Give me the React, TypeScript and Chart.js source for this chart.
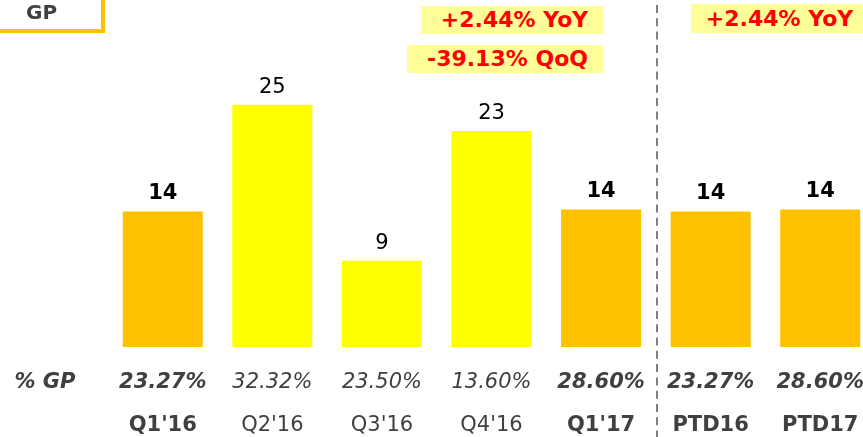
import React, { useEffect, useRef } from "react";
import { Chart, registerables } from "chart.js";

Chart.register(...registerables);

const categories = ["Q1'16", "Q2'16", "Q3'16", "Q4'16", "Q1'17", "PTD16", "PTD17"];
const gpValues = [14.0, 25.0, 8.9, 22.3, 14.2, 14.0, 14.2];
const valueLabels = ["14", "25", "9", "23", "14", "14", "14"];
const gpPercent = ["23.27%", "32.32%", "23.50%", "13.60%", "28.60%", "23.27%", "28.60%"];
const highlighted = [true, false, false, false, true, true, true];
const yMax = 35;

const ORANGE = "#FFC000";
const YELLOW = "#FFFF00";
const TEXT = "#404040";
const FONT = "'DejaVu Sans', Verdana, sans-serif";

const labelPlugin = {
  id: "gpLabels",
  afterDatasetsDraw(chart: any) {
    const ctx = chart.ctx as CanvasRenderingContext2D;
    const meta = chart.getDatasetMeta(0);
    const xs = chart.scales.x;
    ctx.save();
    ctx.textAlign = "center";
    ctx.textBaseline = "alphabetic";
    meta.data.forEach((bar: any, i: number) => {
      const bold = highlighted[i];
      // value labels
      ctx.fillStyle = "#000000";
      ctx.font = `${bold ? "bold " : ""}21px ${FONT}`;
      ctx.fillText(valueLabels[i], bar.x, bar.y - 12);
      // % GP row
      ctx.fillStyle = TEXT;
      ctx.font = `italic ${bold ? "bold " : ""}21px ${FONT}`;
      ctx.fillText(gpPercent[i], bar.x, 388);
      // category row
      ctx.font = `${bold ? "bold " : ""}21px ${FONT}`;
      ctx.fillText(categories[i], bar.x, 431);
    });
    ctx.font = `italic bold 21px ${FONT}`;
    ctx.fillStyle = TEXT;
    ctx.fillText("% GP", 45, 388);
    // dashed separator
    const sepX = Math.round((xs.getPixelForValue(4) + xs.getPixelForValue(5)) / 2) + 1;
    ctx.strokeStyle = "#7F7F7F";
    ctx.lineWidth = 2;
    ctx.setLineDash([8, 5.3]);
    ctx.lineDashOffset = 8.3;
    ctx.beginPath();
    ctx.moveTo(sepX, 0);
    ctx.lineTo(sepX, chart.height);
    ctx.stroke();
    ctx.restore();
  },
};

const noteStyle = (left: number, top: number, width: number, height: number): React.CSSProperties => ({
  position: "absolute",
  left,
  top,
  width,
  height,
  background: "#FFFF99",
  color: "#FF0000",
  fontFamily: FONT,
  fontWeight: "bold",
  fontSize: 22,
  lineHeight: `${height}px`,
  textAlign: "center",
  paddingLeft: 5,
  boxSizing: "border-box",
  whiteSpace: "nowrap",
});

export default function App() {
  const ref = useRef<HTMLCanvasElement>(null);
  useEffect(() => {
    const chart = new Chart(ref.current!, {
      type: "bar",
      data: {
        labels: categories,
        datasets: [
          {
            data: gpValues,
            backgroundColor: categories.map((_, i) => (highlighted[i] ? ORANGE : YELLOW)),
            borderWidth: 0,
            barPercentage: 0.73,
            categoryPercentage: 1,
          },
        ],
      },
      options: {
        responsive: false,
        animation: false,
        layout: { padding: { left: 108, right: 5, top: 8, bottom: 90 } },
        scales: {
          x: { display: false },
          y: { display: false, min: 0, max: yMax },
        },
        plugins: { legend: { display: false }, tooltip: { enabled: false } },
      },
      plugins: [labelPlugin],
    });
    return () => chart.destroy();
  }, []);

  return (
    <div
      style={{
        position: "fixed",
        left: 0,
        top: 0,
        width: 863,
        height: 437,
        overflow: "hidden",
        background: "#FFFFFF",
      }}
    >
      <canvas ref={ref} width={880} height={437} style={{ position: "absolute", left: 0, top: 0 }} />
      <div
        style={{
          position: "absolute",
          left: -10,
          top: -10,
          width: 115,
          height: 43,
          border: `4px solid ${ORANGE}`,
          boxSizing: "border-box",
        }}
      />
      <div
        style={{
          position: "absolute",
          left: 26,
          top: 0,
          fontFamily: FONT,
          fontWeight: "bold",
          fontSize: 20,
          lineHeight: "24px",
          color: TEXT,
        }}
      >
        GP
      </div>
      <div style={noteStyle(421, 6, 182, 28)}>+2.44% YoY</div>
      <div style={noteStyle(407, 45, 196, 28)}>-39.13% QoQ</div>
      <div style={noteStyle(691, 4, 172, 29)}>+2.44% YoY</div>
    </div>
  );
}
